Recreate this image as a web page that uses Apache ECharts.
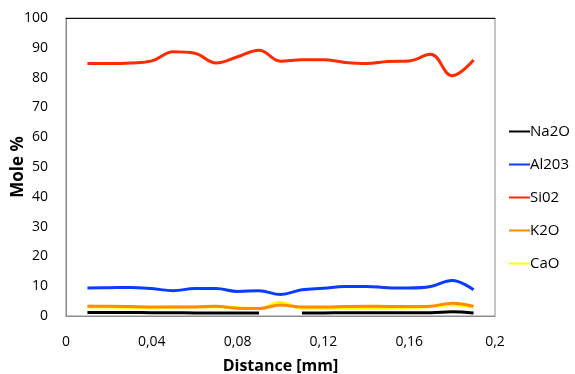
<!DOCTYPE html>
<html>
<head>
<meta charset="utf-8">
<script src="https://cdn.jsdelivr.net/npm/echarts@6/dist/echarts.min.js"></script>
<style>html,body{margin:0;padding:0;background:#fff}#c{width:575px;height:374px}</style>
</head>
<body>
<div id="c"></div>
<script>
const distance = [0.01,0.02,0.03,0.04,0.05,0.06,0.07,0.08,0.09,0.10,0.11,0.12,0.13,0.14,0.15,0.16,0.17,0.18,0.19];
const na2o  = [1.2,1.2,1.2,1.1,1.1,1.0,1.0,1.0,1.0,null,1.0,1.0,1.1,1.1,1.1,1.1,1.1,1.4,1.0];
const al2o3 = [9.4,9.5,9.6,9.2,8.5,9.2,9.2,8.2,8.5,7.2,8.8,9.3,9.9,9.9,9.5,9.4,9.9,11.9,8.8];
const sio2  = [84.7,84.7,84.9,85.6,88.7,88.2,84.9,87.0,89.2,85.5,86.0,86.0,85.1,84.7,85.4,85.6,87.8,80.6,85.9];
const k2o   = [3.3,3.3,3.2,3.0,3.0,3.0,3.3,2.6,2.5,3.7,3.0,3.0,3.2,3.3,3.2,3.2,3.3,4.3,3.3];
const cao   = [3.1,3.0,2.9,2.8,3.0,3.0,3.1,2.7,2.5,4.5,2.6,2.6,2.6,2.6,2.6,2.9,3.1,3.8,3.1];
const seriesNames = ['Na2O','Al203','Si02','K2O','CaO'];
const seriesData = [na2o, al2o3, sio2, k2o, cao];
const colors = ['#000000','#0a3cff','#ff2a00','#ff8c00','#ffff00'];
const zOrder = [2,2,2,4,3];
const yTicks = {min:0, max:100, interval:10};
const xTicks = {min:0, max:0.2, interval:0.04};

const font = 'Open Sans';
const chart = echarts.init(document.getElementById('c'));
chart.setOption({
  animation:false,
  textStyle:{fontFamily:font},
  grid:{left:66, right:80, top:18, bottom:58, show:true, borderColor:'#8c8c8c', borderWidth:1, outerBoundsMode:'none', containLabel:false},
  legend:{
    orient:'vertical', left:504, top:117, itemWidth:21, itemHeight:2, itemGap:14, icon:'rect',
    textStyle:{fontFamily:font, fontSize:15, color:'#000', padding:[0,0,0,-5], lineHeight:19},
    data:seriesNames
  },
  xAxis:[{
    type:'value', min:xTicks.min, max:xTicks.max, interval:xTicks.interval,
    name:'Distance [mm]', nameLocation:'middle', nameGap:42, nameMoveOverlap:false,
    nameTextStyle:{fontFamily:font, fontSize:16, fontWeight:'bold', color:'#000'},
    axisLine:{show:true, lineStyle:{color:'#8c8c8c'}}, axisTick:{show:false},
    splitLine:{show:false},
    axisLabel:{fontFamily:font, fontSize:14, color:'#000', margin:19,
      formatter:v=>String(+v.toFixed(2)).replace('.',',')}
  },{
    type:'value', position:'top', min:xTicks.min, max:xTicks.max,
    axisLine:{show:true, lineStyle:{color:'#111'}}, axisTick:{show:false},
    axisLabel:{show:false}, splitLine:{show:false}
  }],
  yAxis:{
    type:'value', min:yTicks.min, max:yTicks.max, interval:yTicks.interval,
    name:'Mole %', nameLocation:'middle', nameGap:39, nameMoveOverlap:false,
    nameTextStyle:{fontFamily:font, fontSize:17, fontWeight:'bold', color:'#000'},
    axisLine:{show:true, lineStyle:{color:'#8c8c8c'}}, axisTick:{show:false},
    splitLine:{show:false},
    axisLabel:{fontFamily:font, fontSize:14, color:'#000', margin:18}
  },
  series: seriesNames.map((n,i)=>({
    name:n, type:'line', smooth:0.4, symbol:'none', showSymbol:false,
    connectNulls:false, z:zOrder[i],
    lineStyle:{color:colors[i], width:3}, itemStyle:{color:colors[i]},
    data: distance.map((d,j)=>[d, seriesData[i][j]])
  }))
});
</script>
</body>
</html>
